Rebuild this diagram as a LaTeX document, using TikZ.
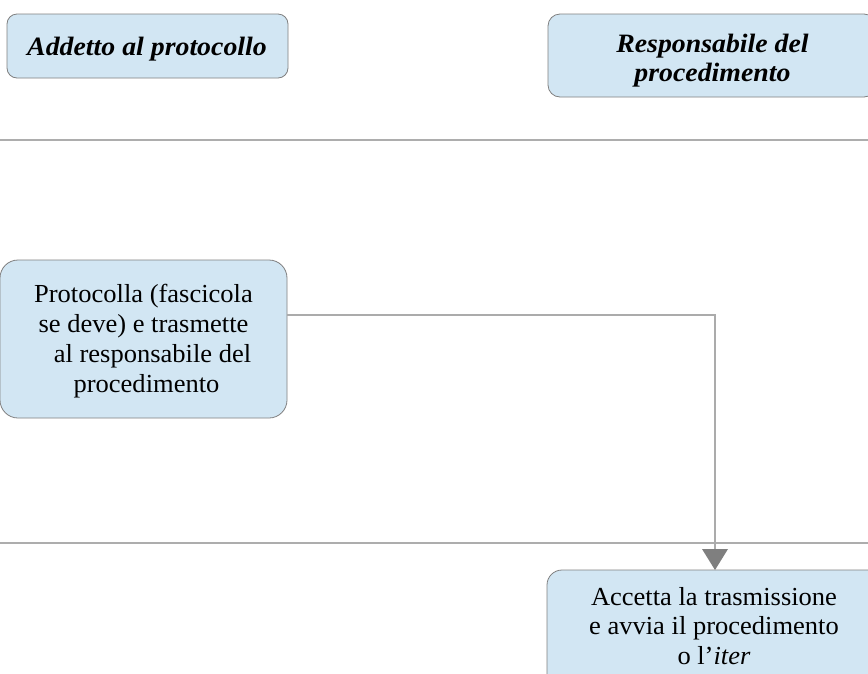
\documentclass[tikz,border=0pt]{standalone}
\usepackage{fontspec}
\setmainfont{Liberation Serif}
\newfontfamily\headfont[FakeStretch=1.05]{Liberation Serif}
\newfontfamily\bodyfont[FakeStretch=1.02]{Liberation Serif}
\begin{document}
\begin{tikzpicture}[x=1pt,y=-1pt,
  lane/.style={draw=black!32, line width=1.2pt},
  hdrbox/.style={draw=black!50, fill=boxfill, line width=0.8pt, rounded corners=10pt},
  hdrtext/.style={align=center, inner sep=0pt,
    font=\headfont\fontsize{26.5}{29.4}\selectfont\bfseries\itshape},
  taskbox/.style={draw=black!50, fill=boxfill, line width=0.8pt, rounded corners=18pt},
  tasktext/.style={align=center, inner sep=0pt,
    font=\bodyfont\fontsize{26}{29.8}\selectfont},
  flow/.style={draw=black!33, line width=1.2pt}
]
\definecolor{boxfill}{HTML}{D2E6F3}
\definecolor{tipgray}{HTML}{7F7F7F}
\clip (0,0) rectangle (868,673);
\fill[white] (0,0) rectangle (868,673);

% lane headers
\draw[hdrbox] (7,14) rectangle (288,78);
\node[hdrtext, anchor=base] (h1) at (147,55) {Addetto al protocollo};
\draw[hdrbox, rounded corners=12pt] (548,14) rectangle (876,97);
\node[hdrtext] (h2) at (712.5,60.8) {Responsabile del\\procedimento};

% lane separators
\draw[lane] (0,140) -- (868,140);
\draw[lane] (0,543) -- (868,543);

% tasks
\draw[taskbox] (0,260) rectangle (287,418);
\node[tasktext] (t1) at (143.5,341)
  {Protocolla (fascicola\\
   se deve) e trasmette\hspace*{13pt}\\
   \hspace*{18pt}al responsabile del\\
   \hspace*{6pt}procedimento};
\draw[taskbox, rounded corners=15pt] (547,570) rectangle (883,700);
\node[tasktext] (t2) at (714,626)
  {Accetta la trasmissione\\ e avvia il procedimento\\ o l’\textit{iter}};

% connector
\coordinate (s) at (287,315);
\coordinate (e) at (715,549);
\draw[flow] (s) -| (e);
\fill[tipgray] (702,549) -- (728,549) -- (715,570) -- cycle;
\end{tikzpicture}
\end{document}
